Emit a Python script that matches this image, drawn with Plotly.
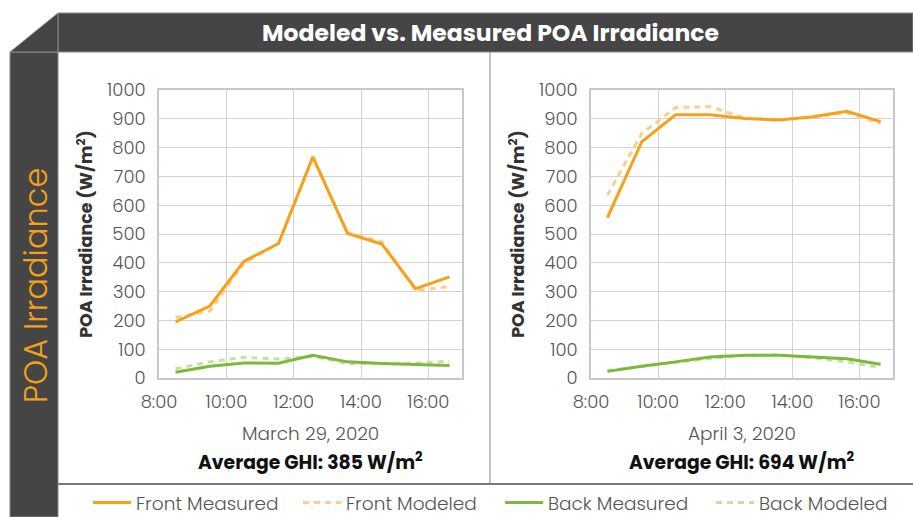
import plotly.graph_objects as go

# ---------------- data ----------------
hours = [8.49, 9.51, 10.52, 11.55, 12.57, 13.6, 14.62, 15.62, 16.63]

mar_front_measured = [195, 250, 405, 467, 768, 502, 465, 310, 351]
mar_front_modeled = [210, 232, 398, 467, 765, 504, 473, 303, 317]
mar_back_measured = [20, 41, 52, 51, 79, 56, 50, 46, 43]
mar_back_modeled = [32, 56, 72, 66, 75, 50, 50, 52, 58]

apr_front_measured = [557, 820, 914, 914, 901, 896, 907, 926, 890]
apr_front_modeled = [635, 849, 939, 942, 903, 895, 905, 921, 884]
apr_back_measured = [23, 41, 56, 73, 79, 79, 73, 67, 48]
apr_back_modeled = [26, 40, 52, 68, 78, 80, 70, 56, 36]

tick_hours = [8, 10, 12, 14, 16]
tick_labels = ["8:00", "10:00", "12:00", "14:00", "16:00"]
y_ticks = [0, 100, 200, 300, 400, 500, 600, 700, 800, 900, 1000]

series_names = ["Front Measured", "Front Modeled", "Back Measured", "Back Modeled"]
colors = ["#F7A11A", "#FDCD8E", "#7DB83A", "#C8DFA4"]
dashes = ["solid", "6px,5px", "solid", "6px,5px"]
legend_ids = ["legend", "legend2", "legend3", "legend4"]
legend_text_x = [136, 346, 548, 759]

W, H = 913, 517
FONT = "Poppins, Inter, Lato, sans-serif"


def px_x(v):
    return v / W


def px_y(v):
    return 1 - v / H


fig = go.Figure()

panels = [
    ("x", "y", [mar_front_measured, mar_front_modeled, mar_back_measured, mar_back_modeled]),
    ("x2", "y2", [apr_front_measured, apr_front_modeled, apr_back_measured, apr_back_modeled]),
]
for pi, (xa, ya, data) in enumerate(panels):
    order = [1, 0, 3, 2]  # modeled drawn first, measured on top
    for si in order:
        fig.add_trace(go.Scatter(
            x=hours, y=data[si], mode="lines", name=series_names[si],
            line=dict(color=colors[si], width=3, dash=dashes[si]),
            xaxis=xa, yaxis=ya, showlegend=(pi == 0), legend=legend_ids[si],
        ))

xdom1 = [px_x(159), px_x(462)]
xdom2 = [px_x(591), px_x(893)]
ydom = [px_y(378), px_y(90)]

axis_common_x = dict(
    range=[8, 17], tickmode="array", tickvals=tick_hours, ticktext=tick_labels,
    showgrid=True, gridcolor="#D3D3D3", gridwidth=1.3,
    showline=True, linecolor="#C8C8C8", linewidth=1.5, mirror=True,
    ticks="", ticklabelstandoff=7, zeroline=False, automargin=False,
    tickfont=dict(family=FONT, size=18, color="#555555", weight=300),
)
axis_common_y = dict(
    range=[0, 1000], tickmode="array", tickvals=y_ticks,
    showgrid=True, gridcolor="#D3D3D3", gridwidth=1.3,
    showline=True, linecolor="#C8C8C8", linewidth=1.5, mirror=True,
    ticks="", ticklabelstandoff=8, zeroline=False, automargin=False,
    tickfont=dict(family=FONT, size=18, color="#555555", weight=300),
    title=dict(text="POA Irradiance (W/m<sup>2</sup>)", standoff=10,
               font=dict(family=FONT, size=17.5, color="#333333", weight="bold")),
)

legend_common = dict(orientation="h", xanchor="left", yanchor="middle",
                     font=dict(family=FONT, size=18.5, color="#555555", weight=300),
                     bgcolor="rgba(0,0,0,0)", borderwidth=0, itemwidth=38)

layout_kwargs = dict(
    width=W, height=H, margin=dict(l=0, r=0, t=0, b=0, autoexpand=False),
    paper_bgcolor="white", plot_bgcolor="white",
    xaxis=dict(domain=xdom1, anchor="y", **axis_common_x),
    yaxis=dict(domain=ydom, anchor="x", **axis_common_y),
    xaxis2=dict(domain=xdom2, anchor="y2", **axis_common_x),
    yaxis2=dict(domain=ydom, anchor="x2", **axis_common_y),
    showlegend=True,
)
for lid, tx in zip(legend_ids, legend_text_x):
    layout_kwargs[lid] = dict(x=px_x(tx - 48), y=px_y(503), **legend_common)
fig.update_layout(**layout_kwargs)

shapes = []
shapes.append(dict(type="rect", xref="paper", yref="paper",
                   x0=px_x(58), x1=px_x(913), y0=px_y(52), y1=px_y(13),
                   fillcolor="#454545", line=dict(color="#8A8A8A", width=1), layer="below"))
shapes.append(dict(type="rect", xref="paper", yref="paper",
                   x0=px_x(10), x1=px_x(58), y0=px_y(517), y1=px_y(52),
                   fillcolor="#454545", line=dict(color="#8A8A8A", width=1), layer="below"))
shapes.append(dict(type="path", xref="paper", yref="paper",
                   path=f"M {px_x(10)} {px_y(52)} L {px_x(58)} {px_y(13)} L {px_x(58)} {px_y(52)} Z",
                   fillcolor="#454545", line=dict(color="#8A8A8A", width=1), layer="below"))
shapes.append(dict(type="line", xref="paper", yref="paper",
                   x0=px_x(490), x1=px_x(490), y0=px_y(484), y1=px_y(52),
                   line=dict(color="#8A8A8A", width=1)))
shapes.append(dict(type="line", xref="paper", yref="paper",
                   x0=px_x(58), x1=px_x(913), y0=px_y(484), y1=px_y(484),
                   line=dict(color="#7A7A7A", width=2)))
fig.update_layout(shapes=shapes)

annotations = [
    dict(text="<b>Modeled vs. Measured POA Irradiance</b>", x=px_x(490), y=px_y(33),
         xref="paper", yref="paper", showarrow=False, xanchor="center", yanchor="middle",
         font=dict(family=FONT, size=23.5, color="white")),
    dict(text="POA Irradiance", x=px_x(35), y=px_y(286), textangle=-90,
         xref="paper", yref="paper", showarrow=False, xanchor="center", yanchor="middle",
         font=dict(family=FONT, size=32, color="#F7A11A", weight=300)),
    dict(text="March 29, 2020", x=(xdom1[0] + xdom1[1]) / 2, y=px_y(433),
         xref="paper", yref="paper", showarrow=False, xanchor="center", yanchor="middle",
         font=dict(family=FONT, size=18.5, color="#555555", weight=300)),
    dict(text="April 3, 2020", x=(xdom2[0] + xdom2[1]) / 2, y=px_y(433),
         xref="paper", yref="paper", showarrow=False, xanchor="center", yanchor="middle",
         font=dict(family=FONT, size=18.5, color="#555555", weight=300)),
    dict(text="<b>Average GHI: 385 W/m<sup>2</sup></b>", x=(xdom1[0] + xdom1[1]) / 2, y=px_y(461),
         xref="paper", yref="paper", showarrow=False, xanchor="center", yanchor="middle",
         font=dict(family=FONT, size=18.8, color="#111111")),
    dict(text="<b>Average GHI: 694 W/m<sup>2</sup></b>", x=(xdom2[0] + xdom2[1]) / 2, y=px_y(461),
         xref="paper", yref="paper", showarrow=False, xanchor="center", yanchor="middle",
         font=dict(family=FONT, size=18.8, color="#111111")),
]
fig.update_layout(annotations=annotations)

fig.write_html("out.html", config={"displayModeBar": False},
               post_script="document.body.style.margin='0px';")
